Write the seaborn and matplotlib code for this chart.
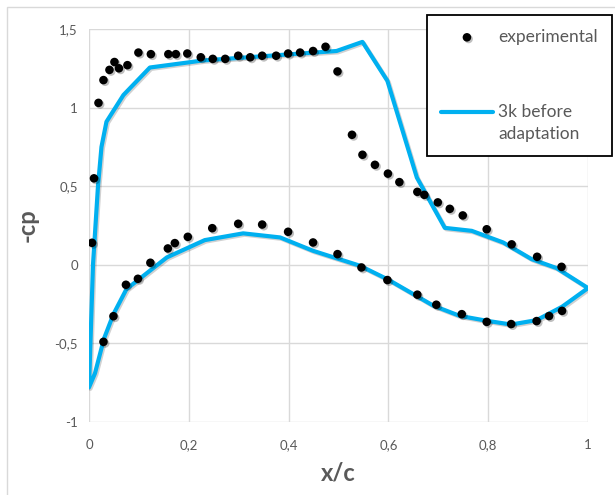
import matplotlib
matplotlib.use("Agg")
import matplotlib.pyplot as plt
import matplotlib.patheffects as pe
from matplotlib.patches import Rectangle
from matplotlib.ticker import FuncFormatter
from matplotlib.legend_handler import HandlerLine2D
import numpy as np
import seaborn as sns
import pandas as pd

# experimental data (upper surface then lower surface)
exp_x = [0.006, 0.010, 0.019, 0.029, 0.041, 0.051, 0.060, 0.077, 0.099, 0.124,
         0.159, 0.174, 0.197, 0.224, 0.248, 0.273, 0.299, 0.323, 0.347, 0.375,
         0.399, 0.423, 0.449, 0.474, 0.498, 0.527, 0.548, 0.573, 0.599, 0.622,
         0.658, 0.672, 0.699, 0.723, 0.749, 0.797, 0.847, 0.898, 0.947,
         0.029, 0.049, 0.074, 0.098, 0.123, 0.158, 0.172, 0.198, 0.247, 0.299,
         0.347, 0.399, 0.449, 0.498, 0.546, 0.598, 0.658, 0.696, 0.747, 0.797,
         0.846, 0.897, 0.922, 0.948]
exp_y = [0.14, 0.55, 1.03, 1.175, 1.24, 1.29, 1.25, 1.27, 1.35, 1.34,
         1.34, 1.34, 1.344, 1.32, 1.31, 1.31, 1.33, 1.32, 1.33, 1.33,
         1.344, 1.35, 1.36, 1.387, 1.23, 0.827, 0.70, 0.636, 0.58, 0.526,
         0.464, 0.445, 0.397, 0.356, 0.314, 0.226, 0.13, 0.051, -0.013,
         -0.49, -0.327, -0.127, -0.089, 0.013, 0.104, 0.138, 0.178, 0.233, 0.261,
         0.256, 0.21, 0.142, 0.068, -0.017, -0.097, -0.19, -0.254, -0.314, -0.363,
         -0.377, -0.358, -0.326, -0.293]

# CFD "3k before adaptation" (closed loop: TE -> lower -> LE -> upper -> TE)
cfd_x = [1.0, 0.948, 0.897, 0.846, 0.797, 0.743, 0.69, 0.60, 0.543, 0.449,
         0.383, 0.309, 0.232, 0.156, 0.075, 0.049, 0.03, 0.012, 0.0,
         0.008, 0.018, 0.025, 0.035, 0.069, 0.122, 0.229, 0.496, 0.548,
         0.598, 0.657, 0.713, 0.767, 0.83, 0.887, 0.937, 1.0]
cfd_y = [-0.148, -0.267, -0.352, -0.38, -0.356, -0.325, -0.26, -0.095, -0.006, 0.089,
         0.174, 0.20, 0.157, 0.047, -0.155, -0.314, -0.47, -0.69, -0.78,
         0.0, 0.5, 0.75, 0.91, 1.08, 1.255, 1.30, 1.36, 1.418,
         1.17, 0.555, 0.235, 0.216, 0.142, 0.036, -0.021, -0.148]

x_ticks = [0, 0.2, 0.4, 0.6, 0.8, 1.0]
y_ticks = [-1, -0.5, 0, 0.5, 1, 1.5]

exp_df = pd.DataFrame({"x": exp_x, "y": exp_y})
cfd_df = pd.DataFrame({"x": cfd_x, "y": cfd_y})

sns.set_theme(style="white")
plt.rcParams["font.family"] = ["Lato", "DejaVu Sans"]

W, H = 615, 495
fig = plt.figure(figsize=(W / 100, H / 100), dpi=100)
ax = fig.add_axes([89 / W, 1 - 422 / H, 499 / W, 393 / H])

grey = "#595959"
shadow = [pe.SimplePatchShadow(offset=(1.2, -1.2), alpha=0.25, shadow_rgbFace="black"), pe.Normal()]
line_shadow = [pe.SimpleLineShadow(offset=(1.0, -1.0), alpha=0.18, shadow_color="black"), pe.Normal()]

sns.lineplot(data=cfd_df, x="x", y="y", sort=False, estimator=None, ax=ax,
             color="#00B0F0", linewidth=3.0, label="3k before\nadaptation", zorder=3)
cfd_line = ax.lines[-1]
sns.scatterplot(data=exp_df, x="x", y="y", ax=ax, color="black", s=38,
                edgecolor="black", linewidth=0, label="experimental", zorder=4)
ax.collections[-1].set_path_effects(shadow)

ax.set_xlim(0, 1)
ax.set_ylim(-1, 1.5)
ax.set_xticks(x_ticks)
ax.set_yticks(y_ticks)
fmt = FuncFormatter(lambda v, p: ("%g" % v).replace(".", ","))
ax.xaxis.set_major_formatter(fmt)
ax.yaxis.set_major_formatter(fmt)
ax.grid(True, color="#d9d9d9", linewidth=1.0)
ax.set_axisbelow(True)
for s in ax.spines.values():
    s.set_visible(False)
ax.tick_params(axis="both", length=0, labelsize=9.5, labelcolor=grey)
ax.tick_params(axis="x", pad=12)
ax.tick_params(axis="y", pad=8)

ax.set_xlabel("x/c", fontsize=17, fontweight="bold", color=grey, labelpad=8)
ax.set_ylabel("-cp", fontsize=17, fontweight="bold", color=grey, labelpad=11)


class TopLineHandler(HandlerLine2D):
    """Place the line handle level with the first line of a two-line label."""
    def create_artists(self, legend, orig_handle, xdescent, ydescent,
                       width, height, fontsize, trans):
        artists = super().create_artists(legend, orig_handle, xdescent, ydescent,
                                         width, height, fontsize, trans)
        for a in artists:
            a.set_ydata(np.asarray(a.get_ydata(), dtype=float) + fontsize * 0.65)
        return artists


handles, labels = ax.get_legend_handles_labels()
order = [labels.index("experimental"), labels.index("3k before\nadaptation")]
if ax.get_legend():
    ax.get_legend().remove()
leg_handles = [handles[i] for i in order]
leg = fig.legend(leg_handles, [labels[i] for i in order],
                 loc="upper left", bbox_to_anchor=(427 / W, 1 - 15 / H),
                 borderaxespad=0, frameon=True, fancybox=False, edgecolor="black",
                 framealpha=1, fontsize=12.5, labelcolor=grey, handlelength=3.0,
                 handletextpad=0.3, borderpad=0.8, labelspacing=3.4, markerscale=1.0,
                 handler_map={leg_handles[1]: TopLineHandler()})
leg.get_frame().set_linewidth(1.3)
for t in leg.get_texts():
    t.set_linespacing(1.5)

cfd_line.set_path_effects(line_shadow)

fig.patches.append(Rectangle((7 / W, -0.1), 1.2, 1.1 - 7 / H,
                             transform=fig.transFigure, fill=False,
                             edgecolor="#d9d9d9", linewidth=1.0, zorder=0))

fig.savefig("out.png", dpi=100)
